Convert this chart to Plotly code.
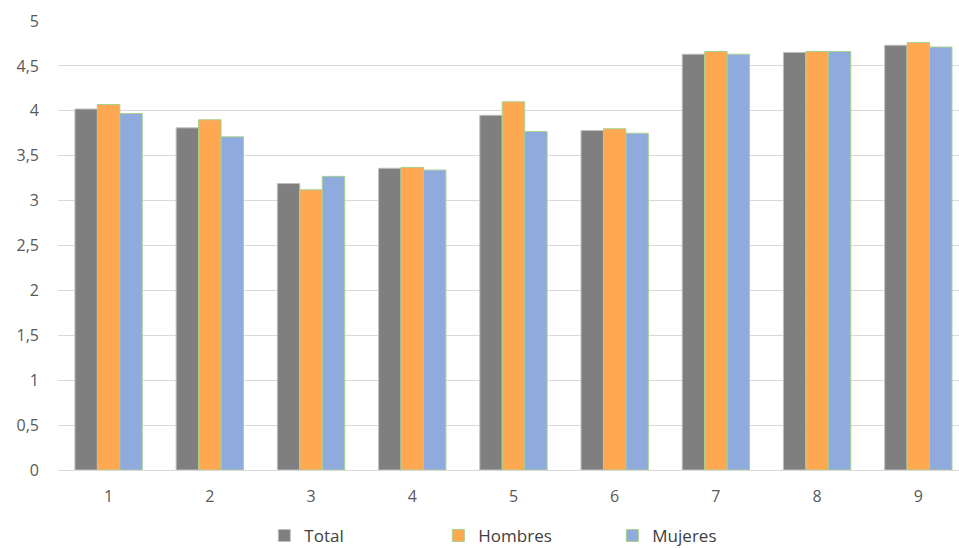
import plotly.graph_objects as go

categories = [1, 2, 3, 4, 5, 6, 7, 8, 9]
total = [4.02, 3.81, 3.19, 3.36, 3.95, 3.78, 4.63, 4.65, 4.73]
hombres = [4.07, 3.90, 3.12, 3.37, 4.10, 3.80, 4.66, 4.66, 4.76]
mujeres = [3.97, 3.71, 3.27, 3.34, 3.77, 3.75, 4.63, 4.66, 4.71]
y_ticks = [0, 0.5, 1, 1.5, 2, 2.5, 3, 3.5, 4, 4.5, 5]

series = [
    ("Total", total, "#7f7f7f", "#bfbfbf"),
    ("Hombres", hombres, "#ffa852", "#a9d18e"),
    ("Mujeres", mujeres, "#8faadc", "#a9d18e"),
]

fig = go.Figure()
for name, vals, fill, edge in series:
    fig.add_trace(go.Bar(
        x=categories, y=vals, name=name,
        marker=dict(color=fill, line=dict(color=edge, width=1)),
    ))

font_family = "Open Sans, Liberation Sans, sans-serif"

fig.update_layout(
    width=959, height=548,
    margin=dict(l=58, r=0, t=21, b=78, autoexpand=False),
    paper_bgcolor="white", plot_bgcolor="white",
    separators=",.",
    barmode="group", bargap=0.335, bargroupgap=0,
    font=dict(family=font_family, size=16, color="#595959"),
    xaxis=dict(
        tickmode="array", tickvals=categories,
        ticktext=[str(c) for c in categories],
        range=[0.5, 9.402],
        showgrid=False, showline=True, linecolor="#d9d9d9", linewidth=1,
        ticks="", ticklabelstandoff=12,
    ),
    yaxis=dict(
        range=[0, 5], tickmode="array", tickvals=y_ticks,
        showgrid=True, gridcolor="#d9d9d9", gridwidth=1,
        zeroline=False, ticks="", ticklabelstandoff=18,
    ),
    legend=dict(
        orientation="h", x=0.229, xanchor="left",
        yref="container", y=0.022, yanchor="middle",
        font=dict(family=font_family, size=17, color="#404040"),
        entrywidth=129, entrywidthmode="pixels", traceorder="normal",
    ),
    showlegend=True,
)

fig.write_html("out.html")
